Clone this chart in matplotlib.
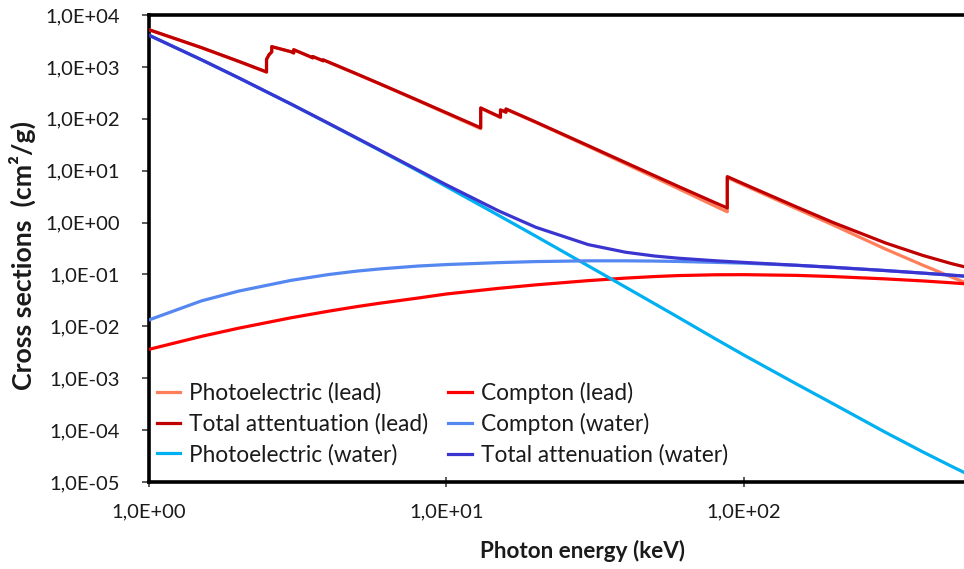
import matplotlib
matplotlib.use("Agg")
import matplotlib.pyplot as plt
from matplotlib.ticker import FixedLocator, FixedFormatter, NullLocator

# ---------------- data (cm^2/g vs keV) ----------------
water_E = [1, 1.5, 2, 3, 4, 5, 6, 8, 10, 15, 20, 30, 40, 50, 60, 80, 100,
           150, 200, 300, 400, 500, 600]
water_pe = [4076, 1374, 617, 192.5, 81.9, 41.9, 24.2, 10.0, 4.94, 1.37, 0.545,
            0.146, 0.0571, 0.0275, 0.0151, 5.8e-3, 2.8e-3, 7.8e-4, 3.2e-4,
            9.0e-5, 3.8e-5, 2.0e-5, 1.2e-5]
water_compton = [0.0133, 0.0309, 0.0477, 0.0768, 0.0993, 0.116, 0.128, 0.145,
                 0.155, 0.169, 0.177, 0.183, 0.183, 0.181, 0.178, 0.171, 0.165,
                 0.150, 0.137, 0.119, 0.106, 0.0966, 0.0894]
water_total = [4078, 1376, 617.3, 192.9, 82.78, 42.58, 24.64, 10.37, 5.329,
               1.673, 0.8096, 0.3756, 0.2683, 0.2269, 0.2059, 0.1837, 0.1707,
               0.1505, 0.137, 0.1186, 0.1061, 0.09687, 0.08956]

lead_E = [1, 1.5, 2, 2.484, 2.484, 2.534, 2.586, 2.586, 3, 3.066, 3.066, 3.301,
          3.554, 3.554, 3.699, 3.851, 3.851, 4, 5, 6, 8, 10, 13.04, 13.04, 15,
          15.2, 15.2, 15.53, 15.86, 15.86, 20, 30, 40, 50, 60, 80, 88, 88, 100,
          150, 200, 300, 400, 500, 600]
lead_total = [5210, 2356, 1285, 800.6, 1397, 1726, 1944, 2458, 1965, 1857, 2146,
              1796, 1496, 1585, 1442, 1311, 1368, 1251, 730.4, 467.2, 228.7,
              130.6, 67.01, 162.1, 111.6, 107.8, 148.5, 141.6, 134.4, 154.8,
              86.36, 30.32, 14.36, 8.041, 5.021, 2.419, 1.910, 7.683, 5.549,
              2.014, 0.9985, 0.4031, 0.2323, 0.1614, 0.1248]
lead_pe = [5197, 2344, 1274, 791, 1388, 1717, 1935, 2449, 1956, 1848, 2137,
           1788, 1489, 1578, 1435, 1305, 1362, 1245, 725, 463, 225, 127, 64.5,
           159.6, 109.4, 105.6, 146.4, 139.5, 132.4, 152.8, 84.9, 29.3, 13.6,
           7.45, 4.55, 2.08, 1.61, 7.38, 5.28, 1.86, 0.893, 0.307, 0.151,
           0.089, 0.058]
lead_compton_E = [1, 1.5, 2, 3, 4, 5, 6, 8, 10, 15, 20, 30, 40, 50, 60, 80, 100,
                  150, 200, 300, 400, 500, 600]
lead_compton = [0.0036, 0.0064, 0.0092, 0.0146, 0.0195, 0.0240, 0.0280, 0.0350,
                0.0420, 0.0540, 0.0630, 0.0760, 0.0850, 0.0910, 0.0950, 0.0985,
                0.0990, 0.0960, 0.0910, 0.0820, 0.0750, 0.0690, 0.0640]

y_ticks = [1e4, 1e3, 1e2, 1e1, 1e0, 1e-1, 1e-2, 1e-3, 1e-4, 1e-5]
y_ticklabels = ["1,0E+04", "1,0E+03", "1,0E+02", "1,0E+01", "1,0E+00",
                "1,0E-01", "1,0E-02", "1,0E-03", "1,0E-04", "1,0E-05"]
x_ticks = [1, 10, 100]
x_ticklabels = ["1,0E+00", "1,0E+01", "1,0E+02"]

# ---------------- figure ----------------
plt.rcParams['font.family'] = ['Lato', 'DejaVu Sans']
W, H = 964, 569
fig = plt.figure(figsize=(W / 100, H / 100), dpi=100)
left_px, top_px, bottom_px = 149, 15, 482
ax = fig.add_axes([left_px / W, 1 - bottom_px / H, (W - left_px) / W,
                   (bottom_px - top_px) / H])

lw = 2.3
ax.plot(lead_E, lead_pe, color='#FF7F5A', lw=lw, label='Photoelectric (lead)', zorder=3)
ax.plot(lead_compton_E, lead_compton, color='#FF0000', lw=lw, label='Compton (lead)', zorder=3)
ax.plot(lead_E, lead_total, color='#C00000', lw=lw, label='Total attentuation (lead)', zorder=4)
ax.plot(water_E, water_pe, color='#00B0F0', lw=lw, label='Photoelectric (water)', zorder=3)
ax.plot(water_E, water_compton, color='#5487F0', lw=lw, label='Compton (water)', zorder=3)
ax.plot(water_E, water_total, color='#3A35D0', lw=lw, label='Total attenuation (water)', zorder=4)

ax.set_xscale('log')
ax.set_yscale('log')
ax.set_xlim(1, 10 ** ((W - left_px) / 297.4))
ax.set_ylim(1e-5, 1e4)

ax.yaxis.set_major_locator(FixedLocator(y_ticks))
ax.yaxis.set_major_formatter(FixedFormatter(y_ticklabels))
ax.xaxis.set_major_locator(FixedLocator(x_ticks))
ax.xaxis.set_major_formatter(FixedFormatter(x_ticklabels))
ax.yaxis.set_minor_locator(NullLocator())
ax.xaxis.set_minor_locator(NullLocator())

ax.tick_params(axis='y', direction='out', length=5, width=1.2, color='#404040',
               pad=16, labelsize=14.5, labelcolor='#1a1a1a')
ax.tick_params(axis='x', direction='inout', length=7, width=1.2, color='#404040',
               pad=12, labelsize=14.5, labelcolor='#1a1a1a')

for s in ['left', 'top', 'bottom']:
    ax.spines[s].set_linewidth(2.6)
    ax.spines[s].set_color('black')
ax.spines['right'].set_visible(False)

handles, labels = ax.get_legend_handles_labels()
order = [0, 2, 3, 1, 4, 5]
leg = ax.legend([handles[i] for i in order], [labels[i] for i in order],
                ncol=2, frameon=False, fontsize=16.3, loc='lower left',
                bbox_to_anchor=(-0.006, 0.008), handlelength=1.05,
                handletextpad=0.38, columnspacing=0.9, labelspacing=0.41,
                borderaxespad=0.15)
for t in leg.get_texts():
    t.set_color('#1a1a1a')

fig.text(583 / W, 1 - 551 / H, 'Photon energy (keV)', ha='center', va='center',
         fontsize=16.2, fontweight='bold', color='#1a1a1a')
fig.text(22 / W, 1 - 256 / H, 'Cross sections  (cm²/g)', ha='center', va='center',
         rotation=90, fontsize=19.3, fontweight='bold', color='#1a1a1a')

fig.savefig('out.png', dpi=100)
